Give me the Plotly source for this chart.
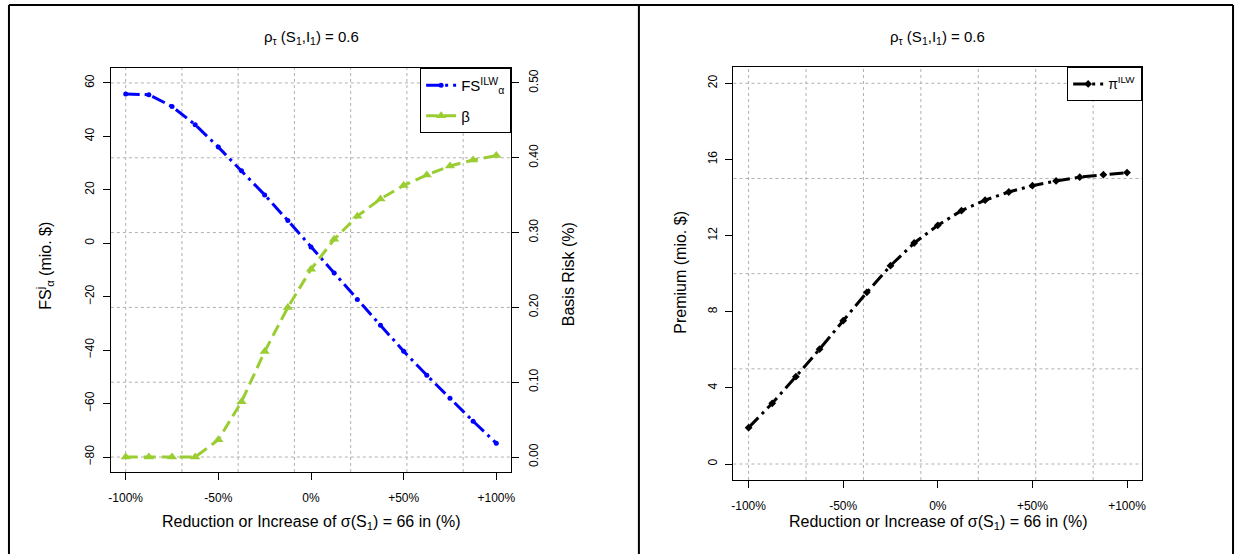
import plotly.graph_objects as go

# ---- data ----
x_change = [-100, -87.5, -75, -62.5, -50, -37.5, -25, -12.5, 0,
            12.5, 25, 37.5, 50, 62.5, 75, 87.5, 100]
fs_ilw = [55.9, 55.6, 51.2, 44.4, 36.0, 27.1, 18.1, 8.5, -1.4,
          -11.1, -21.0, -30.7, -40.4, -49.4, -58.0, -66.6, -74.8]
beta = [0.000, 0.000, 0.000, 0.000, 0.023, 0.074, 0.141, 0.200, 0.251,
        0.291, 0.322, 0.345, 0.363, 0.377, 0.389, 0.397, 0.403]
premium = [1.91, 3.19, 4.59, 6.03, 7.53, 9.02, 10.42, 11.61, 12.54,
           13.31, 13.86, 14.29, 14.62, 14.87, 15.07, 15.20, 15.31]
x_tickvals = [-100, -50, 0, 50, 100]
x_ticktext = ["-100%", "-50%", "0%", "+50%", "+100%"]
fs_ticks = [-80, -60, -40, -20, 0, 20, 40, 60]
br_ticks = [0.0, 0.1, 0.2, 0.3, 0.4, 0.5]
pr_ticks = [0, 4, 8, 12, 16, 20]

W, H = 1242, 554
FONT = "Liberation Sans"


def px(xp):
    return xp / W


def py(yp):
    return 1 - yp / H


fig = go.Figure()

fig.add_trace(go.Scatter(
    x=x_change, y=fs_ilw, mode="lines+markers", name="FS<sup>ILW</sup><sub>α</sub>",
    line=dict(color="#0000FF", width=3, dash="14px,5px,3px,5px"),
    marker=dict(color="#0000FF", size=5, symbol="circle"),
    xaxis="x", yaxis="y", legend="legend", legendgroup="a"))
fig.add_trace(go.Scatter(
    x=x_change, y=beta, mode="lines+markers", name="β",
    line=dict(color="#9ACD32", width=3, dash="12px,6px"),
    marker=dict(color="#9ACD32", size=9, symbol="triangle-up"),
    xaxis="x", yaxis="y2", legend="legend", legendgroup="b"))
fig.add_trace(go.Scatter(
    x=x_change, y=premium, mode="lines+markers", name="π<sup>ILW</sup>",
    line=dict(color="#000000", width=3, dash="14px,5px,3px,5px"),
    marker=dict(color="#000000", size=6, symbol="diamond"),
    xaxis="x2", yaxis="y3", legend="legend2"))

tickfont = dict(family=FONT, size=12, color="black")
common_x = dict(range=[-108, 108], tickvals=x_tickvals, ticktext=x_ticktext,
                ticks="outside", ticklen=7, tickcolor="black",
                showline=True, linecolor="black", linewidth=1, mirror=True,
                showgrid=False, zeroline=False, tickfont=tickfont,
                ticklabelstandoff=8)

left_dom_x = [px(109.4), px(511.6)]
left_dom_y = [py(472), py(68)]
right_dom_x = [px(735), px(1145.7)]
right_dom_y = [py(480), py(67.3)]

fig.update_layout(
    width=W, height=H, autosize=False,
    margin=dict(l=0, r=0, t=0, b=0),
    paper_bgcolor="white", plot_bgcolor="white",
    font=dict(family=FONT, color="black"),
    xaxis=dict(domain=left_dom_x, anchor="y", **common_x),
    yaxis=dict(domain=left_dom_y, anchor="x", range=[-85.6, 65.6],
               tickvals=fs_ticks, ticks="outside", ticklen=7, tickcolor="black",
               showline=True, linecolor="black", linewidth=1, mirror=True,
               showgrid=False, zeroline=False, tickfont=tickfont,
               tickangle=-90, ticklabelstandoff=4),
    yaxis2=dict(overlaying="y", side="right", anchor="x", range=[-0.02, 0.52],
                tickvals=br_ticks, tickformat=".2f", ticks="outside", ticklen=7,
                tickcolor="black", showline=True, linecolor="black", linewidth=1,
                showgrid=False, zeroline=False, tickfont=tickfont,
                tickangle=-90, ticklabelstandoff=4),
    xaxis2=dict(domain=right_dom_x, anchor="y3", **common_x),
    yaxis3=dict(domain=right_dom_y, anchor="x2", range=[-0.84, 20.84],
                tickvals=pr_ticks, ticks="outside", ticklen=7, tickcolor="black",
                showline=True, linecolor="black", linewidth=1, mirror=True,
                showgrid=False, zeroline=False, tickfont=tickfont,
                tickangle=-90, ticklabelstandoff=4),
    legend=dict(x=px(511.6), xanchor="right", y=py(68), yanchor="top",
                bordercolor="black", borderwidth=1, bgcolor="white",
                font=dict(family=FONT, size=15), tracegroupgap=8,
                itemwidth=30),
    legend2=dict(x=px(1145.7), xanchor="right", y=py(67.3), yanchor="top",
                 bordercolor="black", borderwidth=1, bgcolor="white",
                 font=dict(family=FONT, size=14), itemwidth=30),
    showlegend=True,
)

shapes = []
grid_style = dict(color="#B0B0B0", width=1, dash="dot")
grid_x = [-100 + 30.35 * k for k in range(7)]
for gx in grid_x:
    shapes.append(dict(type="line", xref="x", yref="y domain", x0=gx, x1=gx,
                       y0=0, y1=1, line=grid_style, layer="below"))
    shapes.append(dict(type="line", xref="x2", yref="y3 domain", x0=gx, x1=gx,
                       y0=0, y1=1, line=grid_style, layer="below"))
for gy in br_ticks:
    shapes.append(dict(type="line", xref="x domain", yref="y2", x0=0, x1=1,
                       y0=gy, y1=gy, line=grid_style, layer="below"))
for gy in [0, 5, 10, 15, 20]:
    shapes.append(dict(type="line", xref="x2 domain", yref="y3", x0=0, x1=1,
                       y0=gy, y1=gy, line=grid_style, layer="below"))
# page frames
frame = dict(color="black", width=2)
shapes.append(dict(type="line", xref="paper", yref="paper", x0=px(7), x1=px(1237),
                   y0=py(5), y1=py(5), line=frame))
for xx in [7, 640, 1237]:
    shapes.append(dict(type="line", xref="paper", yref="paper", x0=px(xx), x1=px(xx),
                       y0=py(5), y1=py(560), line=frame))
fig.update_layout(shapes=shapes)

ann = []
title_text = "ρ<sub>τ</sub> (S<sub>1</sub>,I<sub>1</sub>) = 0.6"
xtitle = "Reduction or Increase of σ(S<sub>1</sub>) = 66 in (%)"
for cx in [310.5, 940.3]:
    ann.append(dict(text=title_text, x=px(cx), y=py(38), xref="paper", yref="paper",
                    showarrow=False, font=dict(family=FONT, size=15),
                    xanchor="center", yanchor="middle"))
    ann.append(dict(text=xtitle, x=px(cx), y=py(522), xref="paper", yref="paper",
                    showarrow=False, font=dict(family=FONT, size=16),
                    xanchor="center", yanchor="middle"))
ann.append(dict(text="FS<sup>j</sup><sub>α</sub> (mio. $)", x=px(43), y=py(266),
                xref="paper", yref="paper", showarrow=False, textangle=-90,
                font=dict(family=FONT, size=16), xanchor="center", yanchor="middle"))
ann.append(dict(text="Basis Risk (%)", x=px(570), y=py(274),
                xref="paper", yref="paper", showarrow=False, textangle=-90,
                font=dict(family=FONT, size=16), xanchor="center", yanchor="middle"))
ann.append(dict(text="Premium (mio. $)", x=px(681), y=py(272),
                xref="paper", yref="paper", showarrow=False, textangle=-90,
                font=dict(family=FONT, size=16), xanchor="center", yanchor="middle"))
fig.update_layout(annotations=ann)

fig.write_html("out.html",
               config={"displayModeBar": False},
               post_script="document.body.style.margin='0';"
                           "document.body.style.overflow='hidden';")
